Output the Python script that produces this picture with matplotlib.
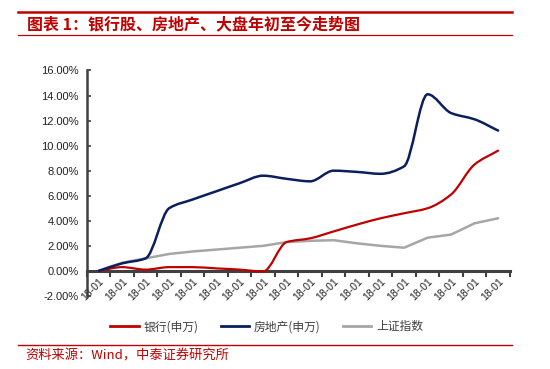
import numpy as np
import matplotlib
matplotlib.use('Agg')
import matplotlib.pyplot as plt
from matplotlib.path import Path
from matplotlib.patches import PathPatch
from matplotlib.lines import Line2D
from matplotlib.ticker import FuncFormatter

plt.rcParams['font.family'] = ['Noto Sans CJK SC', 'DejaVu Sans']

# data (% change since start of year)
dates = ['18-01'] * 18
bank = [0.0, 0.3, 0.1, 0.3, 0.3, 0.2, 0.1, -0.05, 2.3, 2.6, 3.15, 3.7, 4.2, 4.6, 5.0, 6.1, 8.5, 9.6]
realestate = [0.0, 0.6, 1.0, 5.0, 5.7, 6.35, 7.0, 7.6, 7.35, 7.15, 8.0, 7.9, 7.75, 8.35, 14.1, 12.6, 12.1, 11.2]
index_sh = [0.0, 0.65, 1.0, 1.35, 1.55, 1.7, 1.85, 2.0, 2.3, 2.4, 2.45, 2.2, 2.0, 1.85, 2.65, 2.9, 3.8, 4.2]

RED = '#C00000'
NAVY = '#0B1F5E'
GRAY = '#A6A6A6'
AXC = '#404040'


def smooth_path(x, y):
    # smoothed line drawn as cubic bezier through every data point
    # (monotone tangents so the curve doesn't dip between points)
    x = np.asarray(x, float)
    y = np.asarray(y, float)
    n = len(x)
    d = np.diff(y) / np.diff(x)
    m = np.zeros(n)
    m[0], m[-1] = d[0], d[-1]
    for i in range(1, n - 1):
        if d[i - 1] * d[i] <= 0:
            m[i] = 0.0
        else:
            m[i] = 2.0 / (1.0 / d[i - 1] + 1.0 / d[i])
    verts = [(x[0], y[0])]
    codes = [Path.MOVETO]
    for i in range(n - 1):
        h = x[i + 1] - x[i]
        verts += [(x[i] + h / 3, y[i] + m[i] * h / 3),
                  (x[i + 1] - h / 3, y[i + 1] - m[i + 1] * h / 3),
                  (x[i + 1], y[i + 1])]
        codes += [Path.CURVE4] * 3
    return Path(verts, codes)


fig = plt.figure(figsize=(5.5, 3.69), dpi=100)
ax = fig.add_axes([0.158, 0.198, 0.769, 0.611])

x = np.arange(len(dates))
ax.add_patch(PathPatch(smooth_path(x, bank), fill=False, edgecolor=RED, lw=1.6,
                       capstyle='round', joinstyle='round', zorder=3))
ax.add_patch(PathPatch(smooth_path(x, realestate), fill=False, edgecolor=NAVY, lw=1.8,
                       capstyle='round', joinstyle='round', zorder=3))
ax.plot(x, index_sh, color=GRAY, lw=1.8, solid_capstyle='round', zorder=2)

ax.set_xlim(-0.5, len(dates) - 0.5)
ax.set_ylim(-2, 16)
ax.set_yticks(np.arange(-2, 17, 2))
ax.yaxis.set_major_formatter(FuncFormatter(lambda v, p: f'{v:.2f}%'))

for s in ['top', 'right']:
    ax.spines[s].set_visible(False)
ax.spines['left'].set_color(AXC)
ax.spines['left'].set_linewidth(1.8)
ax.spines['bottom'].set_position(('data', 0))
ax.spines['bottom'].set_color(AXC)
ax.spines['bottom'].set_linewidth(2.2)
ax.spines['bottom'].set_zorder(1)

# category axis: ticks between categories, labels at the centres
ax.set_xticks(np.arange(-0.5, len(dates), 1.0))
ax.set_xticklabels([])
ax.set_xticks(x, minor=True)
ax.set_xticklabels(dates, minor=True, rotation=45, ha='right', va='top',
                   rotation_mode='anchor', fontsize=7.5, color='#222222',
                   family=['Liberation Sans', 'DejaVu Sans'])
ax.tick_params(axis='x', which='major', direction='out', length=4, width=1.5, color=AXC)
ax.tick_params(axis='x', which='minor', length=0, pad=4)
ax.tick_params(axis='y', direction='in', length=3, width=1.2, color=AXC, pad=6,
               labelsize=8, labelcolor='#222222')
for t in ax.get_yticklabels():
    t.set_family(['Liberation Sans', 'DejaVu Sans'])

# legend
handles = [Line2D([], [], color=RED, lw=2), Line2D([], [], color=NAVY, lw=2),
           Line2D([], [], color=GRAY, lw=2)]
fig.legend(handles, ['银行(申万)', '房地产(申万)', '上证指数'], loc='center',
           bbox_to_anchor=(0.485, 0.114), ncol=3, frameon=False, fontsize=8.5,
           handlelength=2.4, columnspacing=1.9, handletextpad=0.4, labelcolor='#404040')

# title block and source note
fig.add_artist(Line2D([0.033, 0.931], [1 - 12 / 369] * 2, color=RED, lw=1.8))
fig.add_artist(Line2D([0.033, 0.931], [1 - 35 / 369] * 2, color=RED, lw=0.9))
fig.text(0.049, 1 - 24 / 369, '图表 1：银行股、房地产、大盘年初至今走势图', color=RED,
         fontsize=11.5, fontweight='bold', fontstyle='italic', va='center', ha='left')
fig.add_artist(Line2D([0.033, 0.931], [1 - 345 / 369] * 2, color=RED, lw=1.0))
fig.text(0.046, 1 - 356 / 369, '资料来源：Wind，中泰证券研究所', color=RED,
         fontsize=9.5, va='center', ha='left')

fig.savefig('out.png', dpi=100)
